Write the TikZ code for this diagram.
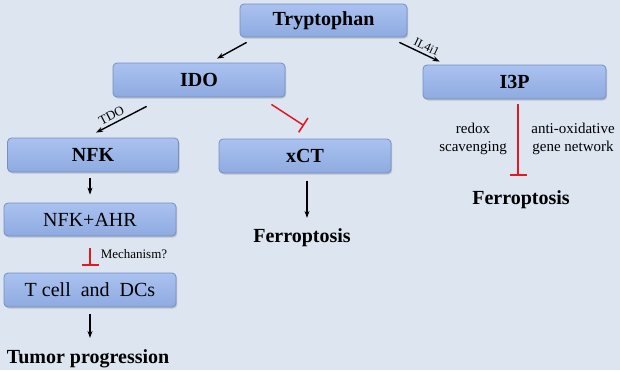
\documentclass[tikz,border=0pt]{standalone}
\usepackage{fontspec}
\setmainfont{Liberation Serif}
\usetikzlibrary{arrows.meta,calc,shadows}
\begin{document}
\begin{tikzpicture}[x=1pt,y=-1pt]
    \definecolor{myBGcol}{RGB}{221,229,241}
    \definecolor{myBoxTop}{RGB}{170,194,240}
    \definecolor{myBoxBot}{RGB}{142,170,224}
    \definecolor{myBoxEdge}{RGB}{118,142,196}
    \definecolor{myRed}{RGB}{225,25,35}
    \tikzset{
        stepbox/.style={rectangle, rounded corners=4pt, draw=myBoxEdge, line width=0.8pt,
            top color=myBoxTop, bottom color=myBoxBot,
            drop shadow={shadow xshift=1.2pt, shadow yshift=-1.5pt, opacity=0.35},
            inner sep=0pt, font=\fontsize{20}{24}\selectfont},
        outcome/.style={inner sep=0pt, font=\bfseries\fontsize{20}{24}\selectfont},
        smalltxt/.style={inner sep=0pt, font=\fontsize{15}{18}\selectfont, align=center},
        act/.style={-{Stealth[length=7pt,width=5pt]}, line width=1.4pt},
        inhib/.style={-{Bar[width=17pt,line width=1.6pt]}, myRed, line width=1.5pt}
    }
    \fill[myBGcol] (0,0) rectangle (620,370);
    \useasboundingbox (0,0) rectangle (620,370);

    % boxes
    \node[stepbox, minimum width=167pt, minimum height=33pt] (tryp) at (323.5,20.5) {\bfseries Tryptophan};
    \node[stepbox, minimum width=172pt, minimum height=34pt] (ido) at (199,80) {\bfseries IDO};
    \node[stepbox, minimum width=183pt, minimum height=34pt] (i3p) at (514.5,82) {\bfseries I3P};
    \node[stepbox, minimum width=171pt, minimum height=34pt] (nfk) at (93,155) {\bfseries NFK};
    \node[stepbox, minimum width=172pt, minimum height=34pt] (xct) at (305,156) {\bfseries xCT};
    \node[stepbox, minimum width=172pt, minimum height=33pt] (ahr) at (90,219.5) {NFK+AHR};
    \node[stepbox, minimum width=172pt, minimum height=34pt] (tcell) at (90,290) {T cell\ \ and\ \ DCs};

    % outcomes
    \node[outcome, anchor=base] (ferroA) at (302,242) {Ferroptosis};
    \node[outcome, anchor=base] (ferroB) at (521,204) {Ferroptosis};
    \node[outcome, anchor=base] (tumor) at (88,363) {Tumor progression};

    % connectors
    \draw[act] ($(tryp.south west)+(7,5)$) -- ($(ido.north)+(18,-4)$);
    \draw[act] ($(tryp.south east)+(-8,5)$) -- ($(i3p.north west)+(17,-3)$)
        node[pos=0.6, above, sloped, inner sep=3pt, font=\fontsize{12}{14}\selectfont] {IL4i1};
    \draw[act] ($(ido.south west)+(34,9)$) -- ($(nfk.north)+(3,-5)$)
        node[pos=0.62, above, sloped, inner sep=3pt, font=\fontsize{13}{15}\selectfont] {TDO};
    \draw[inhib] ($(ido.south east)+(-14,7)$) -- ($(xct.north)+(-1,-13)$);
    \draw[act] ($(nfk.south)+(-3,6)$) -- ($(ahr.north)+(0,-8)$);
    \draw[act] ($(xct.south)+(2,8)$) -- ($(ferroA.north)+(5,-10)$);
    \draw[inhib] ($(ahr.south)+(0,12)$) -- ($(tcell.north)+(0,-7)$)
        node[pos=0.35, right=10pt, inner sep=0pt, text=black, font=\fontsize{13}{15}\selectfont] {Mechanism?};
    \draw[act] ($(tcell.south)+(0,7)$) -- ($(tumor.north)+(2,-11)$);
    \draw[inhib] ($(i3p.south)+(3.5,5)$) -- ($(ferroB.north)+(-3,-14)$);

    % side labels
    \node[smalltxt] (redox) at (473,139) {redox\\scavenging};
    \node[smalltxt] (antiox) at (573,139) {anti-oxidative\\gene network};
\end{tikzpicture}
\end{document}
